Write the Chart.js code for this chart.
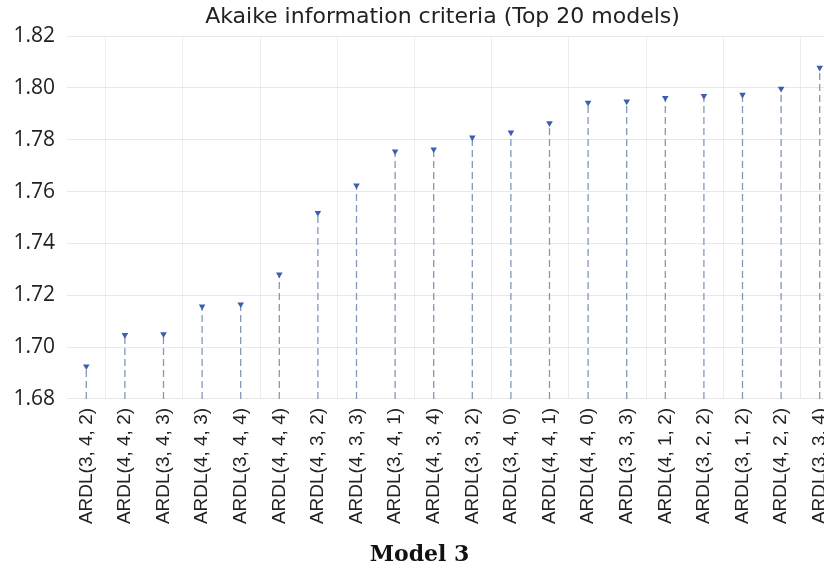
<!DOCTYPE html>
<html>
<head>
<meta charset="utf-8">
<script src="https://cdn.jsdelivr.net/npm/chart.js@4/dist/chart.umd.min.js"></script>
<style>
  html, body { margin: 0; padding: 0; background: #fff; overflow: hidden; width: 824px; height: 569px; }
  #wrap { position: relative; width: 845px; height: 569px; }
</style>
</head>
<body>
<div id="wrap"><canvas id="c" width="845" height="569"></canvas></div>
<script>
// ARDL specifications ranked by Akaike information criterion
const models = [
  'ARDL(3, 4, 2)', 'ARDL(4, 4, 2)', 'ARDL(3, 4, 3)', 'ARDL(4, 4, 3)', 'ARDL(3, 4, 4)',
  'ARDL(4, 4, 4)', 'ARDL(4, 3, 2)', 'ARDL(4, 3, 3)', 'ARDL(3, 4, 1)', 'ARDL(4, 3, 4)',
  'ARDL(3, 3, 2)', 'ARDL(3, 4, 0)', 'ARDL(4, 4, 1)', 'ARDL(4, 4, 0)', 'ARDL(3, 3, 3)',
  'ARDL(4, 1, 2)', 'ARDL(3, 2, 2)', 'ARDL(3, 1, 2)', 'ARDL(4, 2, 2)', 'ARDL(3, 3, 4)'
];
const aicValues = [
  1.6926, 1.7047, 1.7050, 1.7157, 1.7165,
  1.7280, 1.7518, 1.7624, 1.7755, 1.7763,
  1.7809, 1.7828, 1.7864, 1.7943, 1.7948,
  1.7961, 1.7969, 1.7974, 1.7997, 1.8078
];
const axisMin = 1.68;
const axisMax = 1.82;
const axisStep = 0.02;

// Each stem runs from the axis floor up to the model's value; null breaks between stems
const stemPoints = [];
models.forEach((m, i) => {
  stemPoints.push({ x: m, y: axisMin }, { x: m, y: aicValues[i] }, { x: m, y: null });
});

// Nudge the title so it sits centred over the plotted stems
const titleShift = {
  id: 'titleShift',
  afterLayout(chart) {
    if (chart.titleBlock) { chart.titleBlock.left += 46; }
  }
};

new Chart(document.getElementById('c'), {
  type: 'line',
  data: {
    labels: models,
    datasets: [
      {
        data: stemPoints,
        borderColor: '#8397ba',
        borderWidth: 1.3,
        borderDash: [7, 4],
        pointRadius: 0,
        spanGaps: false,
        order: 2
      },
      {
        data: aicValues,
        showLine: false,
        pointStyle: 'triangle',
        rotation: 180,
        pointRadius: 3.8,
        backgroundColor: '#3a5fae',
        borderColor: '#3a5fae',
        borderWidth: 0,
        order: 1
      }
    ]
  },
  plugins: [titleShift],
  options: {
    responsive: false,
    devicePixelRatio: 1,
    animation: false,
    layout: { padding: { left: 0, right: 6, top: 0, bottom: 1 } },
    plugins: {
      legend: { display: false },
      tooltip: { enabled: false },
      title: {
        display: true,
        text: 'Akaike information criteria (Top 20 models)',
        color: '#222',
        font: { family: 'DejaVu Sans', size: 22, weight: 'normal' },
        padding: { top: 4, bottom: 5.6 }
      },
      subtitle: {
        display: true,
        position: 'bottom',
        text: 'Model 3',
        color: '#111',
        font: { family: 'DejaVu Serif', size: 22, weight: 'bold' },
        padding: { top: 8.5, bottom: 0 }
      }
    },
    scales: {
      x: {
        type: 'category',
        offset: true,
        border: { display: false },
        grid: {
          offset: true,
          drawTicks: false,
          color: ctx => (ctx.index % 2 === 1 ? '#ececec' : 'rgba(0,0,0,0)')
        },
        afterFit: s => { s.paddingLeft = 0; s.paddingRight = 0; },
        ticks: {
          autoSkip: false,
          minRotation: 90,
          maxRotation: 90,
          padding: 9,
          color: '#222',
          font: { family: 'Liberation Sans', size: 19 }
        }
      },
      y: {
        min: axisMin,
        max: axisMax,
        border: { display: false },
        grid: { color: '#e8e8e8', drawTicks: false },
        afterFit: s => { s.width = 67; },
        ticks: {
          stepSize: axisStep,
          padding: 12,
          color: '#222',
          font: { family: 'Open Sans', size: 21 },
          callback: v => Number(v).toFixed(2)
        }
      }
    }
  }
});
</script>
</body>
</html>
